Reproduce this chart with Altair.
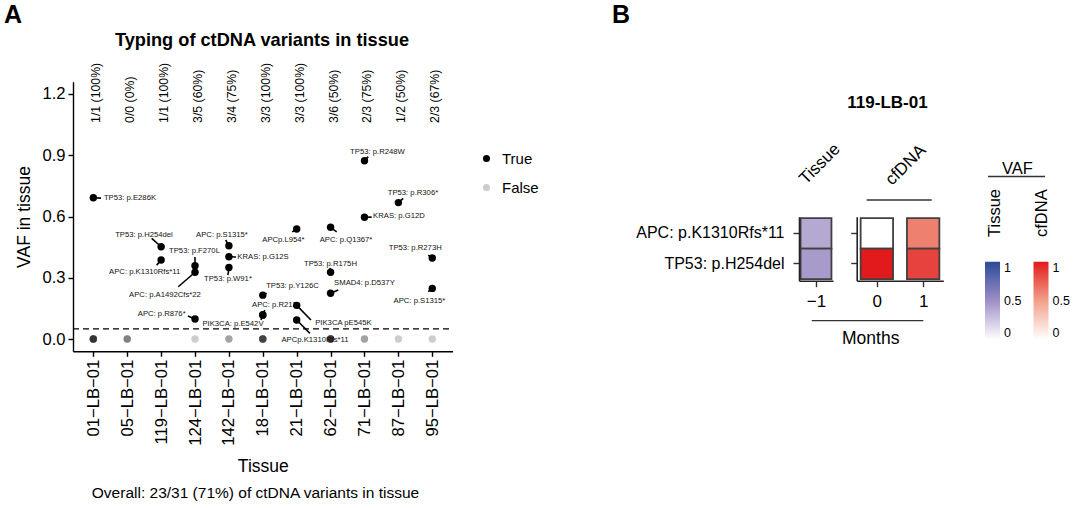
import altair as alt
import pandas as pd

FONT = "Liberation Sans"

# ---------------- Panel A data ----------------
tissues = ["01-LB-01", "05-LB-01", "119-LB-01", "124-LB-01", "142-LB-01", "18-LB-01",
           "21-LB-01", "62-LB-01", "71-LB-01", "87-LB-01", "95-LB-01"]
fractions = ["1/1 (100%)", "0/0 (0%)", "1/1 (100%)", "3/5 (60%)", "3/4 (75%)", "3/3 (100%)",
             "3/3 (100%)", "3/6 (50%)", "2/3 (75%)", "1/2 (50%)", "2/3 (67%)"]
# number of overlapping "False" points drawn at VAF 0 for each tissue
false_counts = [7, 3, 0, 1, 2, 6, 0, 7, 2, 1, 1]

var_tissue = ["01-LB-01", "119-LB-01", "119-LB-01", "124-LB-01", "124-LB-01", "124-LB-01",
              "142-LB-01", "142-LB-01", "142-LB-01", "18-LB-01", "18-LB-01", "18-LB-01",
              "21-LB-01", "21-LB-01", "21-LB-01", "62-LB-01", "62-LB-01", "62-LB-01",
              "71-LB-01", "71-LB-01", "87-LB-01", "95-LB-01", "95-LB-01"]
var_label = ["TP53: p.E286K", "TP53: p.H254del", "APC: p.K1310Rfs*11", "TP53: p.F270L",
             "APC: p.A1492Cfs*22", "APC: p.R876*", "APC: p.S1315*", "KRAS: p.G12S",
             "TP53: p.W91*", "TP53: p.Y126C", "APC: p.R213*", "PIK3CA: p.E542V",
             "APCp.L954*", "PIK3CA pE545K", "APCp.K1310Rfs*11", "APC: p.Q1367*",
             "TP53: p.R175H", "SMAD4: p.D537Y", "TP53: p.R248W", "KRAS: p.G12D",
             "TP53: p.R306*", "TP53: p.R273H", "APC: p.S1315*"]
var_vaf = [0.692, 0.452, 0.387, 0.359, 0.327, 0.098, 0.457, 0.403, 0.350, 0.215, 0.119, 0.117,
           0.539, 0.165, 0.093, 0.547, 0.327, 0.224, 0.873, 0.596, 0.668, 0.397, 0.248]
# repelled label anchors and segment ends (axis units: tissue index, VAF)
label_x = [1.081, 1.494, 1.515, 2.984, 2.114, 2.017, 3.795, 5.005, 3.972, 5.875, 5.388, 4.120,
           5.609, 7.379, 6.539, 7.453, 6.996, 7.999, 8.382, 9.017, 9.430, 9.497, 9.621]
label_y = [0.690, 0.509, 0.327, 0.431, 0.215, 0.121, 0.509, 0.400, 0.294, 0.261, 0.167, 0.072,
           0.485, 0.080, -0.005, 0.485, 0.367, 0.273, 0.914, 0.602, 0.714, 0.444, 0.188]
seg_x = [0.226, 1.722, 1.869, 2.999, 2.506, 2.790, 3.904, 4.208, 3.972, 5.114, 5.060, 4.946,
         5.869, 6.421, 6.391, 7.179, 6.981, 7.226, 8.111, 8.211, 9.143, 9.881, 9.881]
seg_y = [0.690, 0.493, 0.362, 0.402, 0.256, 0.113, 0.485, 0.402, 0.313, 0.224, 0.142, 0.093,
         0.525, 0.093, 0.028, 0.525, 0.348, 0.240, 0.893, 0.597, 0.689, 0.411, 0.232]
threshold = 0.05
fraction_y = 1.058
caption = "Overall: 23/31 (71%) of ctDNA variants in tissue"

# ---------------- Panel B data ----------------
patient = "119-LB-01"
mutations = ["APC: p.K1310Rfs*11", "TP53: p.H254del"]
tissue_month = -1
tissue_vaf = [0.387, 0.452]
cf_months = [0, 1]
cf_vaf_apc = [0.0, 0.62]
cf_vaf_tp53 = [1.0, 0.85]

# ---------------- tables ----------------
idx = {t: i for i, t in enumerate(tissues)}
df_var = pd.DataFrame({
    "tissue": var_tissue, "pos": [idx[t] for t in var_tissue], "vaf": var_vaf,
    "label": var_label, "lx": label_x, "ly": label_y, "sx": seg_x, "sy": seg_y,
    "found": "True",
})
rows = []
for t, n in zip(tissues, false_counts):
    for _ in range(n):
        rows.append({"tissue": t, "pos": idx[t], "vaf": 0.0, "found": "False"})
df_false = pd.DataFrame(rows)
df_pts = pd.concat([df_var[["tissue", "pos", "vaf", "found"]], df_false], ignore_index=True)
df_frac = pd.DataFrame({"pos": list(range(len(tissues))), "frac": fractions, "y": fraction_y})
df_thr = pd.DataFrame({"a": [-0.6], "b": [len(tissues) - 0.4], "y": [threshold]})

df_tis = pd.DataFrame({"mutation": mutations, "month": tissue_month, "vaf": tissue_vaf})
df_cf = pd.DataFrame({
    "mutation": [mutations[0]] * 2 + [mutations[1]] * 2,
    "month": cf_months * 2,
    "vaf": cf_vaf_apc + cf_vaf_tp53,
})

# ---------------- Panel A ----------------
H = 508
sxA = alt.Scale(domain=[-0.6, 10.6], range=[73, 452.6], nice=False, zero=False)
syA = alt.Scale(domain=[-0.06, 1.26], range=[351.3, 81.7], nice=False, zero=False)
names = [t.replace("-", "\u2212") for t in tissues]
label_expr = "[" + ",".join("'" + n + "'" for n in names) + "][datum.value]"
axA_x = alt.Axis(orient="bottom", offset=-(H - 351.3), values=list(range(len(tissues))),
                 labelExpr=label_expr, labelAngle=-90, labelFontSize=16.6, labelPadding=3,
                 tickSize=5, tickWidth=1.4, tickColor="black", domainColor="black",
                 domainWidth=1.4, grid=False, labelColor="black", labelFont=FONT,
                 title="Tissue", titleFont=FONT, titleFontSize=17.5, titleFontWeight="normal",
                 titleColor="black", titlePadding=12)
axA_y = alt.Axis(orient="left", offset=-73, values=[0, 0.3, 0.6, 0.9, 1.2], format=".1f",
                 labelFontSize=16.6, labelPadding=3, tickSize=5, tickWidth=1.4,
                 tickColor="black", domainColor="black", domainWidth=1.4, grid=False,
                 labelColor="black", labelFont=FONT, title="VAF in tissue", titleFont=FONT,
                 titleFontSize=17.5, titleFontWeight="normal", titleColor="black",
                 titlePadding=8)


def XA(f):
    return alt.X(f, type="quantitative", scale=sxA, axis=axA_x)


def YA(f):
    return alt.Y(f, type="quantitative", scale=syA, axis=axA_y)


legA = alt.Legend(orient="none", legendX=479, legendY=151, title=None,
                  labelFontSize=15, labelFont=FONT, labelColor="black",
                  symbolSize=50, symbolType="circle", rowPadding=13,
                  padding=0, labelOffset=8)

segs = alt.Chart(df_var).mark_rule(color="black", strokeWidth=1.6).encode(
    x=XA("pos"), y=YA("vaf"), x2="sx", y2="sy")
thr = alt.Chart(df_thr).mark_rule(color="black", strokeWidth=1.4, strokeDash=[6, 4]).encode(
    x=XA("a"), x2="b", y=YA("y"))
pts = alt.Chart(df_pts).mark_circle(size=55).encode(
    x=XA("pos"), y=YA("vaf"),
    color=alt.Color("found:N", scale=alt.Scale(domain=["True", "False"], range=["black", "black"]),
                    legend=legA),
    opacity=alt.Opacity("found:N", scale=alt.Scale(domain=["True", "False"], range=[1, 0.2]),
                        legend=legA),
)
labs = alt.Chart(df_var).mark_text(fontSize=7.7, font=FONT, color="#111111", baseline="middle").encode(
    x=XA("lx"), y=YA("ly"), text="label:N")
fracs = alt.Chart(df_frac).mark_text(fontSize=12.3, font=FONT, color="black", angle=270,
                                     align="left", baseline="middle", dy=3).encode(
    x=XA("pos"), y=YA("y"), text="frac:N")
panelA = alt.layer(segs, thr, pts, labs, fracs)

# ---------------- Panel B ----------------
TILE = 0.35
syB = alt.Scale(domain=mutations, range=[216.7, 280.7], paddingInner=0, paddingOuter=0.05)
sxT = alt.Scale(domain=[-1.385, -0.615], range=[799, 833], nice=False, zero=False)
sxC = alt.Scale(domain=[-0.435, 1.435], range=[856.7, 943.3], nice=False, zero=False)
common_ax = dict(tickSize=6, tickWidth=1.4, tickColor="#333333", domainColor="#222222",
                 domainWidth=1.6, grid=False, labelColor="black", labelFont=FONT, title=None)
ayT = alt.Axis(orient="left", offset=-799, labelFontSize=16, labelPadding=9, **common_ax)
ayC = alt.Axis(orient="left", offset=-856.7, labels=False, **common_ax)
axT = alt.Axis(orient="bottom", offset=-(H - 280.7), values=[-1], format="d",
               labelFontSize=17, labelPadding=7, **common_ax)
axC = alt.Axis(orient="bottom", offset=-(H - 280.7), values=[0, 1], format="d",
               labelFontSize=17, labelPadding=7, **common_ax)

leg_common = dict(orient="none", title=None, direction="vertical", gradientLength=78,
                  gradientThickness=15, values=[0, 0.5, 1], format=".1~f", labelFontSize=12.5,
                  labelFont=FONT, labelColor="black", padding=0, gradientStrokeWidth=0,
                  labelOffset=4)

tisB = alt.Chart(df_tis).mark_rect(stroke="#404040", strokeWidth=1.8).transform_calculate(
    x1=f"datum.month - {TILE}", x2=f"datum.month + {TILE}").encode(
    x=alt.X("x1:Q", scale=sxT, axis=axT), x2="x2:Q",
    y=alt.Y("mutation:N", scale=syB, axis=ayT),
    color=alt.Color("vaf:Q", scale=alt.Scale(domain=[0, 0.5, 1], interpolate="rgb",
                                             range=["#ffffff", "#9f8fc5", "#2b4a99"]),
                    legend=alt.Legend(legendX=985, legendY=261.7, **leg_common)))
cfB = alt.Chart(df_cf).mark_rect(stroke="#404040", strokeWidth=1.8).transform_calculate(
    x1=f"datum.month - {TILE}", x2=f"datum.month + {TILE}").encode(
    x=alt.X("x1:Q", scale=sxC, axis=axC), x2="x2:Q",
    y=alt.Y("mutation:N", scale=syB, axis=ayC),
    color=alt.Color("vaf:Q", scale=alt.Scale(domain=[0, 0.5, 1], interpolate="rgb",
                                             range=["#ffffff", "#f1a08a", "#e31a1c"]),
                    legend=alt.Legend(legendX=1033.5, legendY=261.7, **leg_common)))

# ---------------- annotations ----------------
dummy = pd.DataFrame({"k": [0]})


def note(text, x, y, size, weight="normal", angle=0, align="center"):
    return alt.Chart(dummy).mark_text(text=text, fontSize=size, fontWeight=weight, angle=angle,
                                      align=align, baseline="alphabetic", color="black",
                                      font=FONT).encode(x=alt.value(x), y=alt.value(y))


def hline(x1, x2, y):
    return alt.Chart(dummy).mark_rule(color="#333333", strokeWidth=1.3).encode(
        x=alt.value(x1), x2=alt.value(x2), y=alt.value(y))


notes = [
    note("A", 4, 23, 25, "bold", align="left"),
    note("B", 612, 23, 25, "bold", align="left"),
    note("Typing of ctDNA variants in tissue", 262, 46, 18.2, "bold"),
    note(caption, 255.5, 498, 15.5),
    note(patient, 887.5, 108, 17, "bold"),
    note("Tissue", 806, 185, 17, angle=315, align="left"),
    note("cfDNA", 892, 186, 17, angle=315, align="left"),
    hline(866.7, 931.7, 200),
    hline(811.7, 923.3, 320.7),
    note("Months", 870.7, 344, 17.5),
    note("VAF", 1017.5, 174, 16.5),
    hline(988, 1045, 176.5),
    note("Tissue", 1000, 237, 16.5, angle=270, align="left"),
    note("cfDNA", 1047, 237, 16.5, angle=270, align="left"),
]

chart = alt.layer(panelA, tisB, cfB, *notes).resolve_scale(
    x="independent", y="independent", color="independent", opacity="independent"
).properties(
    width=1078, height=508, autosize=alt.AutoSizeParams(type="none"), padding=0,
    background="white"
).configure_view(strokeWidth=0)

chart.save("out.html", embed_options={"renderer": "svg", "actions": False})
